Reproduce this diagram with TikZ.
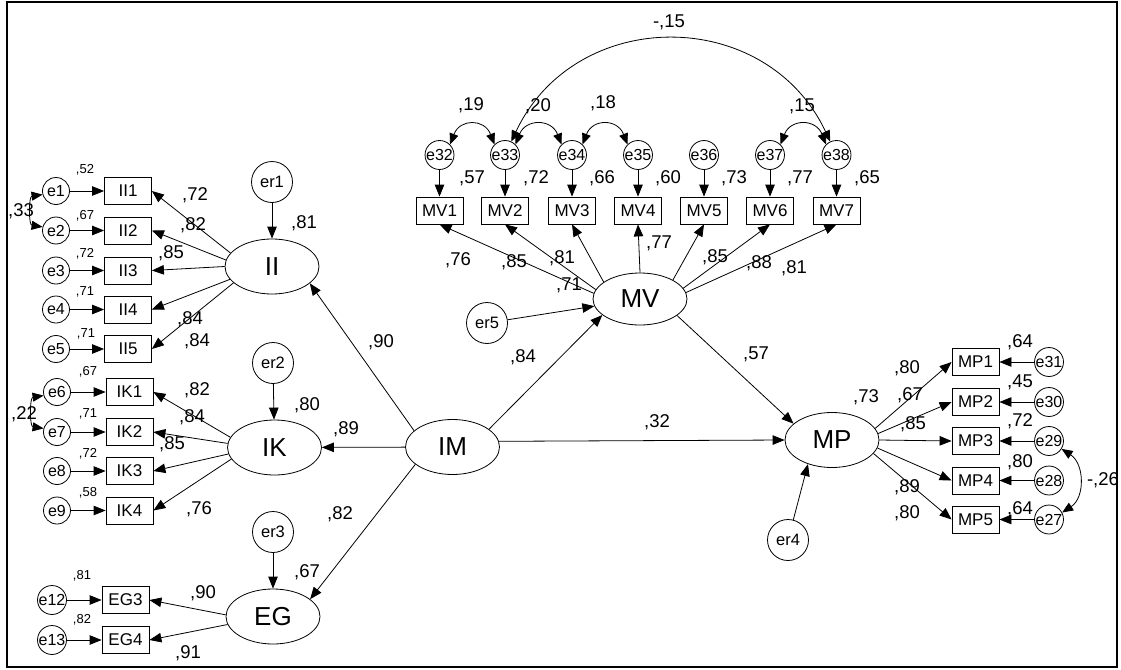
\documentclass[tikz,border=0pt]{standalone}
\usepackage{fontspec}
\setmainfont{Liberation Sans}
\usetikzlibrary{shapes.geometric}
\usetikzlibrary{arrows.meta}

\begin{document}
\begin{tikzpicture}[x=1pt,y=-1pt,line width=0.8pt,
    latent/.style={draw,ellipse,minimum width=94pt,minimum height=55pt,inner sep=0pt,
        font=\fontsize{26}{26}\selectfont},
    obs/.style={draw,rectangle,minimum width=47pt,minimum height=27pt,inner sep=0pt,
        font=\fontsize{17}{17}\selectfont},
    err/.style={draw,circle,minimum size=27pt,inner sep=0pt,font=\fontsize{16}{16}\selectfont},
    dist/.style={draw,circle,minimum size=41pt,inner sep=0pt,font=\fontsize{16.5}{16.5}\selectfont},
    reg/.style={-{Triangle[length=12pt,width=9.5pt]}},
    cov/.style={{Triangle[length=11pt,width=9pt]}-{Triangle[length=11pt,width=9pt]}},
    coef/.style={inner sep=0pt,font=\fontsize{18.5}{18.5}\selectfont},
    rsq/.style={inner sep=0pt,font=\fontsize{13}{13}\selectfont}]
                \useasboundingbox (0,0) rectangle (1121,669);
                \draw[line width=2pt] (7,2.5) rectangle (1117,666.5);
                % latent variables
                \node[latent] (II) at (272,266.5) {II};
                \node[latent] (IK) at (274.5,447.5) {IK};
                \node[latent] (EG) at (273,616.5) {EG};
                \node[latent] (IM) at (452.5,447) {IM};
                \node[latent,minimum height=52pt] (MV) at (640,299) {MV};
                \node[latent] (MP) at (832,440) {MP};
                % disturbances
                \node[dist] (er1) at (272,182) {er1};
                \node[dist] (er2) at (273,363) {er2};
                \node[dist] (er3) at (273,532) {er3};
                \node[dist] (er4) at (788,540) {er4};
                \node[dist] (er5) at (487,323) {er5};
                % indicators with their error terms
                \foreach \n/\y in {1/191,2/230.5,3/270.5,4/309.5,5/349}{
                    \node[obs] (II\n) at (128,\y) {II\n};
                    \node[err] (e\n) at (56,\y) {e\n};
                    \draw[reg] (e\n) -- (II\n);
                }
                \foreach \n/\e/\y in {1/6/392,2/7/432,3/8/471,4/9/510.5}{
                    \node[obs] (IK\n) at (129.5,\y) {IK\n};
                    \node[err] (e\e) at (57,\y) {e\e};
                    \draw[reg] (e\e) -- (IK\n);
                }
                \foreach \n/\e/\y in {3/12/600,4/13/640}{
                    \node[obs] (EG\n) at (125.5,\y) {EG\n};
                    \node[err] (e\e) at (52,\y) {e\e};
                    \draw[reg] (e\e) -- (EG\n);
                }
                \foreach \n/\e/\x in {1/32/439.5,2/33/505,3/34/572,4/35/638,5/36/704,6/37/770,7/38/836.5}{
                    \node[obs] (MV\n) at (\x,210.5) {MV\n};
                    \node[err] (e\e) at (\x,155) {e\e};
                    \draw[reg] (e\e) -- (MV\n);
                }
                \foreach \n/\e/\y in {1/31/362,2/30/402,3/29/441,4/28/480.5,5/27/519.5}{
                    \node[obs] (MP\n) at (975.5,\y) {MP\n};
                    \node[err] (e\e) at (1049,\y) {e\e};
                    \draw[reg] (e\e) -- (MP\n);
                }
                % loadings
                \foreach \n/\a in {1/162,2/172,3/180,4/197,5/203}
                    \draw[reg] (II.\a) -- (II\n.east);
                \foreach \n/\a in {1/167,2/175,3/188,4/195}
                    \draw[reg] (IK.\a) -- (IK\n.east);
                \foreach \n/\a in {3/178,4/190}
                    \draw[reg] (EG.\a) -- (EG\n.east);
                \foreach \n/\a in {1/173,2/168,3/155,4/90,5/30,6/14,7/8}
                    \draw[reg] (MV.\a) -- (MV\n.south);
                \foreach \n/\a in {1/15,2/8,3/0,4/-10,5/-18}
                    \draw[reg] (MP.\a) -- (MP\n.west);
                % structural paths
                \draw[reg] (IM.157) -- (II.-24);
                \draw[reg] (IM) -- (IK);
                \draw[reg] (IM.205) -- (EG.25);
                \draw[reg] (IM.26) -- (MV.203);
                \draw[reg] (IM.7) -- (MP.west);
                \draw[reg] (MV.-24) -- (MP.157);
                \draw[reg] (er1) -- (II);
                \draw[reg] (er2) -- (IK);
                \draw[reg] (er3) -- (EG);
                \draw[reg] (er5) -- (MV);
                \draw[reg] (er4) -- (MP.225);
                % covariances
                \draw[cov] (e1.195) .. controls +(-14,2) and +(-14,-2) .. (e2.165);
                \draw[cov] (e6.195) .. controls +(-14,2) and +(-14,-2) .. (e7.165);
                \draw[cov] (e32.45) .. controls +(10,-26) and +(-10,-26) .. (e33.135);
                \draw[cov] (e33.45) .. controls +(10,-26) and +(-10,-26) .. (e34.135);
                \draw[cov] (e34.45) .. controls +(10,-26) and +(-10,-26) .. (e35.135);
                \draw[cov] (e37.45) .. controls +(10,-26) and +(-10,-26) .. (e38.135);
                \draw[cov] (e33.65) .. controls +(64,-136) and +(-64,-136) .. (e38.115);
                \draw[cov] (e29.-32) .. controls +(23,15) and +(23,-15) .. (e27.28);
                % estimates
                \foreach \x/\y/\t [count=\i] in {195/195/72,193/225/82,171/253/85,190/319/84,
                    197/341/84,304/223/81,197/390/82,192/417/84,172/444/85,199/509/76,
                    307/405/80,340/514/82,307/572/67,203/593/90,188/653/91,381/342/90,
                    346/429/89,523/357/84,657/422/32,756/354/57,458/260/76,514/262/85,
                    562/258/81,569/285/71,659/243/77,715/257/85,759/263/88,794/268/81,
                    472/178/57,536/178/72,602/178/66,668/178/60,734/178/73,800/178/77,
                    867/178/65,471/105/19,538/106/20,603/103/18,802/106/15,
                    907/368/80,866/397/73,910/395/67,913/424/85,907/487/89,907/513/80,
                    1020/342/64,1020/382/45,1020/421/72,1020/462/80,1020/509/64,
                    21/211/33,24/414/22}
                    \node[coef] (c\i) at (\x,\y) {,\t};
                \node[coef] (cMV) at (669,22) {-,15};
                \node[coef] (cMP) at (1103,480) {-,26};
                \foreach \x/\y/\t [count=\i] in {85/170/52,85/216/67,85/254/72,85/292/71,
                    86/334/71,88/372/67,88/414/71,88/454/72,88/493/58,82/576/81,82/620/82}
                    \node[rsq] (r\i) at (\x,\y) {,\t};
            \end{tikzpicture}
\end{document}
